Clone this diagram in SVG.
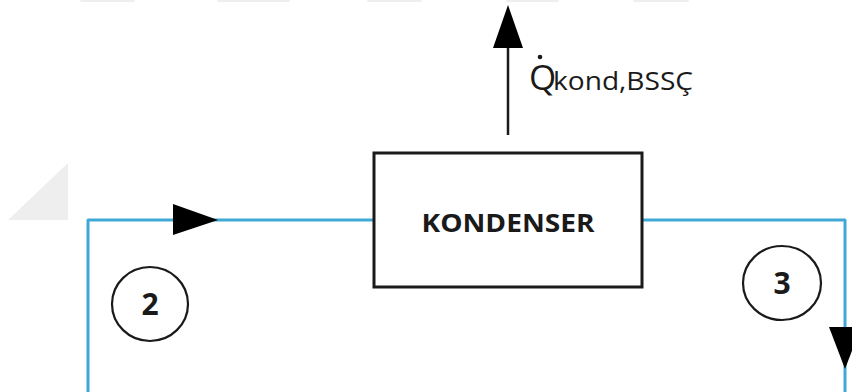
<svg xmlns="http://www.w3.org/2000/svg" width="852" height="392" viewBox="0 0 852 392">
  <style>
    .pipe { fill: none; stroke: #3ea8d6; stroke-width: 3; stroke-linejoin: round; }
    .head { fill: #000; }
    .box { fill: #fff; stroke: #1a1a1a; stroke-width: 3; }
    .state { fill: #fff; stroke: #1a1a1a; stroke-width: 2.2; }
    .num { font-family: "Open Sans", "Noto Sans", sans-serif; font-weight: bold; font-size: 30px; fill: #1a1a1a; text-anchor: middle; }
    .lbl { font-family: "Open Sans", "Noto Sans", sans-serif; fill: #1a1a1a; }
    .faint { fill: #eeeeee; }
  </style>

  <rect width="852" height="392" fill="#fff"/>

  <!-- faint background marks -->
  <g id="backdrop">
    <rect class="faint" x="80" y="-3" width="55" height="5" rx="2"/>
    <rect class="faint" x="217" y="-3" width="73" height="5" rx="2"/>
    <rect class="faint" x="367" y="-3" width="55" height="5" rx="2"/>
    <rect class="faint" x="506" y="-3" width="53" height="5" rx="2"/>
    <rect class="faint" x="633" y="-3" width="56" height="5" rx="2"/>
    <polygon class="faint" points="8,220 68,163 68,220"/>
  </g>

  <!-- refrigerant lines and flow arrows -->
  <g id="connectors">
    <polyline class="pipe" points="88,392 88,220 374,220"/>
    <polyline class="pipe" points="642,220 845,220 845,392"/>
    <polygon class="head" points="173,204 218,220 173,235"/>
    <polygon class="head" points="829,327 861,327 845,369"/>
    <!-- heat rejected by the condenser -->
    <line x1="508" y1="135" x2="508" y2="40" stroke="#1a1a1a" stroke-width="2.5"/>
    <polygon class="head" points="508,5 523,48 493,48"/>
  </g>

  <g id="heat-label">
    <text class="lbl" x="529" y="90" font-size="35">Q</text>
    <circle cx="540" cy="57" r="2.3" fill="#1a1a1a"/>
    <text class="lbl" x="553" y="90" font-size="25" textLength="140" lengthAdjust="spacingAndGlyphs">kond,BSSÇ</text>
  </g>

  <g id="kondenser">
    <rect class="box" x="374" y="153" width="268" height="134"/>
    <text class="lbl" x="508" y="232" font-size="25" font-weight="bold" text-anchor="middle" textLength="173" lengthAdjust="spacingAndGlyphs">KONDENSER</text>
  </g>

  <g id="state-2">
    <ellipse class="state" cx="150" cy="304" rx="38" ry="37"/>
    <text class="num" x="150" y="315">2</text>
  </g>

  <g id="state-3">
    <ellipse class="state" cx="782" cy="283" rx="39" ry="37"/>
    <text class="num" x="782" y="294">3</text>
  </g>
</svg>
